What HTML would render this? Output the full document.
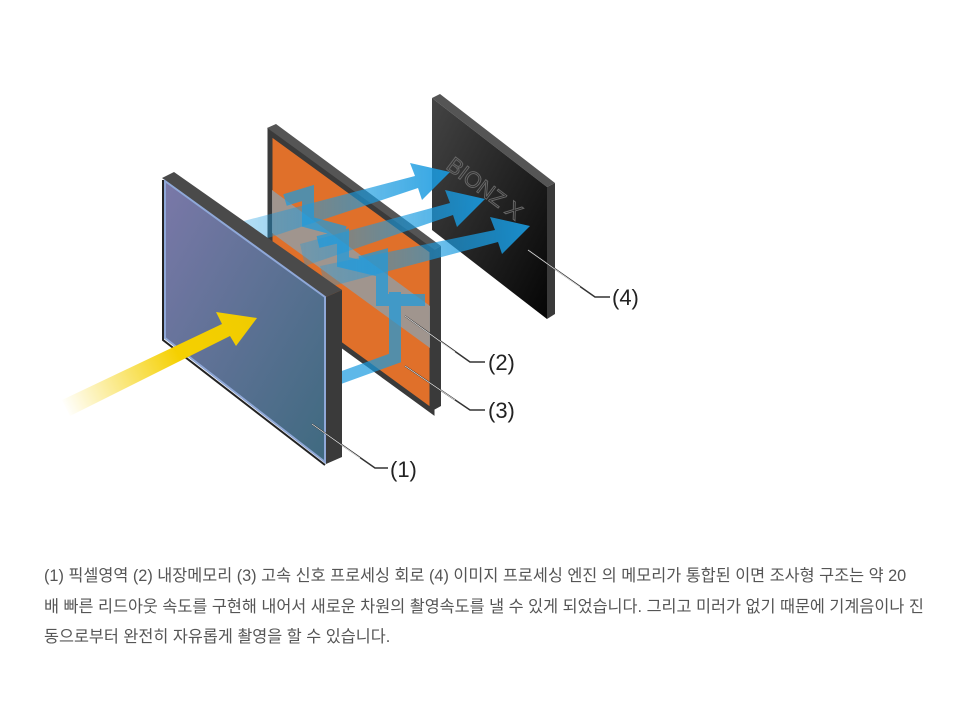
<!DOCTYPE html>
<html><head><meta charset="utf-8"><style>
body{margin:0;background:#fff;width:974px;height:704px;overflow:hidden;position:relative}
p{position:absolute;left:44px;top:561px;width:930px;margin:0;font-family:"Liberation Sans","Noto Sans CJK KR",sans-serif;font-size:16.3px;line-height:30.5px;color:#555;white-space:nowrap}
</style></head><body>
<svg width="974" height="540" style="position:absolute;left:0;top:0">
<defs>
<linearGradient id="y" x1="65" y1="410" x2="255" y2="320" gradientUnits="userSpaceOnUse"><stop offset="0" stop-color="#f5d000" stop-opacity="0"/><stop offset="0.6" stop-color="#f5d000"/><stop offset="1" stop-color="#f0cc00"/></linearGradient>
<linearGradient id="b1" x1="0" y1="0" x2="1" y2="1"><stop offset="0" stop-color="#7a78a8"/><stop offset="1" stop-color="#3f6a80"/></linearGradient>
<linearGradient id="bl" x1="0" y1="0" x2="1" y2="0"><stop offset="0" stop-color="#1a9be0" stop-opacity="0.35"/><stop offset="1" stop-color="#1a9be0"/></linearGradient>
<linearGradient id="k" x1="0" y1="0" x2="1" y2="1"><stop offset="0" stop-color="#444"/><stop offset="1" stop-color="#050505"/></linearGradient>
</defs>
<polygon points="432,98 440,94 555,183 547,187" fill="#555"/>
<polygon points="547,187 555,183 555,314 547,319" fill="#3a3a3a"/>
<polygon points="432,98 547,187 547,319 432,230" fill="url(#k)"/>
<text x="445" y="168" transform="rotate(37 445 168)" font-family="Liberation Sans" font-size="22" fill="none" stroke="#666" stroke-width="1">BIONZ X</text>
<polygon points="267,128 276,124 441,246 432,251" fill="#555"/>
<polygon points="432,251 441,246 441,406 432,411" fill="#3a3a3a"/>
<polygon points="270,133 432,251 432,411 270,293" fill="#e0702a" stroke="#3a3a3a" stroke-width="5"/>
<polygon points="272,190 430,306 430,348 272,233" fill="#999" opacity="0.9"/>
<g fill="url(#bl)" opacity="0.9">
<polygon points="240,222 415,176 410,163 450,172 422,200 418,188 250,244"/>
<polygon points="300,244 450,203 445,190 485,199 457,227 453,215 305,266"/>
<polygon points="320,266 495,230 490,217 530,226 502,254 498,242 325,288"/>
</g>
<g fill="none" stroke="#1a9be0" stroke-width="12" opacity="0.7">
<polyline points="285,200 308,193 308,222 345,232"/>
<polyline points="318,242 343,236 343,262 385,272"/>
<polyline points="360,262 382,256 382,300 425,300"/>
<polyline points="340,378 395,358 395,292"/>
</g>
<polygon points="162,178 174,172 342,290 326,297" fill="#4a4a4a"/>
<polygon points="326,297 342,290 342,457 326,464" fill="#3a3a3a"/>
<polygon points="165,181 325,297 325,462 165,338" fill="url(#b1)" stroke="#8fa8d8" stroke-width="2"/>
<polyline points="163,180 163,340 325,465" fill="none" stroke="#222" stroke-width="2"/>
<polygon points="62,400 222,324 216,312 257,318 236,346 230,336 70,416" fill="url(#y)"/>
<g stroke="#333" stroke-width="1.5" fill="none">
<polyline points="528,250 595,297 610,297"/>
<polyline points="405,316 470,362 485,362"/>
<polyline points="405,366 470,410 485,410"/>
<polyline points="312,424 375,468 388,468"/>
</g>
<g stroke="#fff" stroke-width="0.6" fill="none">
<line x1="528" y1="250" x2="580" y2="287"/><line x1="405" y1="316" x2="455" y2="352"/><line x1="405" y1="366" x2="455" y2="400"/><line x1="312" y1="424" x2="360" y2="458"/>
</g>
<g font-family="Liberation Sans" font-size="22" fill="#222">
<text x="612" y="305">(4)</text><text x="488" y="370">(2)</text><text x="488" y="418">(3)</text><text x="390" y="477">(1)</text>
</g>
</svg>
<p>(1) 픽셀영역 (2) 내장메모리 (3) 고속 신호 프로세싱 회로 (4) 이미지 프로세싱 엔진 의 메모리가 통합된 이면 조사형 구조는 약 20<br>배 빠른 리드아웃 속도를 구현해 내어서 새로운 차원의 촬영속도를 낼 수 있게 되었습니다. 그리고 미러가 없기 때문에 기계음이나 진<br>동으로부터 완전히 자유롭게 촬영을 할 수 있습니다.</p>
</body></html>
